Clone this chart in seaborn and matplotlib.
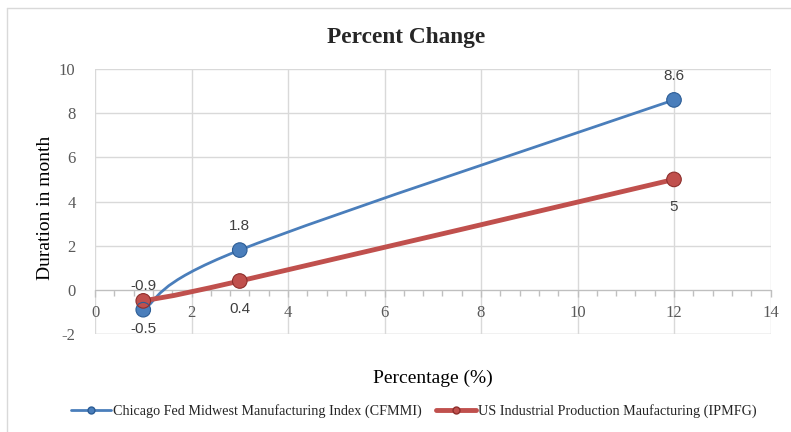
import numpy as np
import pandas as pd
import seaborn as sns
import matplotlib.pyplot as plt
from matplotlib.path import Path
from matplotlib.patches import PathPatch
from matplotlib.lines import Line2D
from matplotlib.ticker import MultipleLocator

# data
x_vals = [1, 3, 12]
cfmmi = [-0.9, 1.8, 8.6]
ipmfg = [-0.5, 0.4, 5]
series_names = ["Chicago Fed Midwest Manufacturing Index (CFMMI)",
                "US Industrial Production Maufacturing (IPMFG)"]

blue = "#4a7ebb"
red = "#c0504d"

df = pd.DataFrame({
    "x": x_vals + x_vals,
    "y": cfmmi + ipmfg,
    "series": [series_names[0]] * 3 + [series_names[1]] * 3,
})

sns.set_style("white")
plt.rcParams["axes.unicode_minus"] = False
serif = ["Liberation Serif", "DejaVu Serif"]
sans = ["Liberation Sans", "DejaVu Sans"]

fig = plt.figure(figsize=(7.91, 4.32), dpi=100)
ax = fig.add_axes([95 / 791, 1 - 334 / 432, 675.5 / 791, 265 / 432])


def smooth_path(xs, ys):
    # excel-style smoothed line: cubic bezier through the points
    pts = np.column_stack([xs, ys]).astype(float)
    n = len(pts)
    verts = [pts[0]]
    codes = [Path.MOVETO]
    for i in range(n - 1):
        p0 = pts[i - 1] if i > 0 else pts[i]
        p1 = pts[i]
        p2 = pts[i + 1]
        p3 = pts[i + 2] if i + 2 < n else pts[i + 1]
        verts += [p1 + (p2 - p0) / 6, p2 - (p3 - p1) / 6, p2]
        codes += [Path.CURVE4] * 3
    return Path(verts, codes)


ax.add_patch(PathPatch(smooth_path(x_vals, cfmmi), fill=False,
                       edgecolor=blue, lw=2, zorder=3, capstyle="round"))
ax.add_patch(PathPatch(smooth_path(x_vals, ipmfg), fill=False,
                       edgecolor=red, lw=3.5, zorder=3, capstyle="round"))

sns.scatterplot(data=df, x="x", y="y", hue="series",
                palette={series_names[0]: blue, series_names[1]: red},
                s=110, edgecolor=None, linewidth=0, zorder=4, legend=False, ax=ax)
# darker rims for the markers
ax.scatter(x_vals, cfmmi, s=110, facecolor="none", edgecolor="#2c5d96", lw=0.8, zorder=5)
ax.scatter(x_vals, ipmfg, s=110, facecolor="none", edgecolor="#8e2f2c", lw=0.8, zorder=5)

# data labels
for xv, yv in zip(x_vals, cfmmi):
    ax.annotate(f"{yv:g}", (xv, yv), xytext=(0, 24), textcoords="offset pixels",
                ha="center", va="center", fontsize=11, color="#404040", family=sans)
for xv, yv in zip(x_vals, ipmfg):
    ax.annotate(f"{yv:g}", (xv, yv), xytext=(0, -28), textcoords="offset pixels",
                ha="center", va="center", fontsize=11, color="#404040", family=sans)

ax.set_xlim(0, 14)
ax.set_ylim(-2, 10)
ax.xaxis.set_major_locator(MultipleLocator(2))
ax.xaxis.set_minor_locator(MultipleLocator(0.4))
ax.yaxis.set_major_locator(MultipleLocator(2))
ax.grid(True, which="major", color="#d9d9d9", lw=1)
ax.set_axisbelow(True)

for s in ["top", "right", "bottom", "left"]:
    ax.spines[s].set_visible(False)
ax.spines["bottom"].set_visible(True)
ax.spines["bottom"].set_position(("data", 0))
ax.spines["bottom"].set_color("#bfbfbf")
ax.spines["bottom"].set_zorder(1)
# grid border on the bottom
ax.axhline(-2, color="#d9d9d9", lw=1, zorder=0)

ax.tick_params(axis="x", which="both", bottom=True)
ax.tick_params(axis="x", which="major", length=5, width=1, color="#bfbfbf", direction="out",
               pad=6, labelsize=12, labelcolor="#595959")
ax.tick_params(axis="x", which="minor", length=4, width=1, color="#bfbfbf", direction="out")
ax.tick_params(axis="y", left=False, length=0, pad=14, labelsize=12, labelcolor="#595959")
for lab in ax.get_xticklabels() + ax.get_yticklabels():
    lab.set_family(serif)

ax.set_xlabel("")
ax.set_ylabel("")
fig.text(433 / 791, 1 - 378 / 432, "Percentage (%)", ha="center", va="center",
         fontsize=14, family=serif, color="#000000")
fig.text(45 / 791, 1 - 208 / 432, "Duration in month", ha="center", va="center",
         rotation=90, fontsize=14, family=serif, color="#000000")
fig.text(406 / 791, 1 - 37 / 432, "Percent Change", ha="center", va="center",
         fontsize=16.8, fontweight="bold", family=serif)

handles = [
    Line2D([], [], color=blue, lw=2, marker="o", markersize=5,
           markerfacecolor=blue, markeredgecolor="#2c5d96"),
    Line2D([], [], color=red, lw=3.5, marker="o", markersize=5,
           markerfacecolor=red, markeredgecolor="#8e2f2c"),
]
fig.legend(handles, series_names, loc="center", bbox_to_anchor=(414 / 791, 1 - 411 / 432),
           ncol=2, frameon=False, prop={"family": serif, "size": 10.2},
           handlelength=2.8, handletextpad=0.15, columnspacing=1.0,
           borderpad=0, borderaxespad=0)

# outer chart border (only top and left edges visible)
fig.add_artist(Line2D([7 / 791, 7 / 791], [0, 1 - 8 / 432], transform=fig.transFigure,
                      color="#d9d9d9", lw=1))
fig.add_artist(Line2D([7 / 791, 1], [1 - 8 / 432, 1 - 8 / 432], transform=fig.transFigure,
                      color="#d9d9d9", lw=1))

fig.savefig("out.png", dpi=100)
